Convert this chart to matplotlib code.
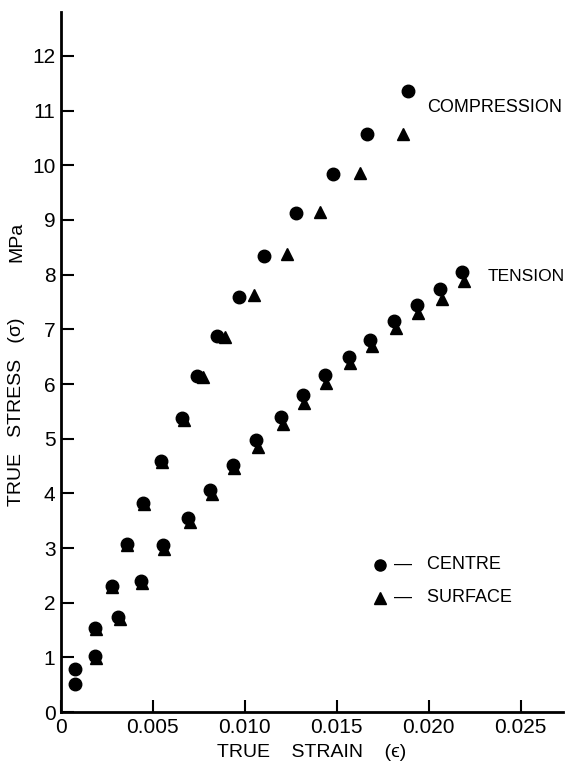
import matplotlib
matplotlib.use('Agg')
import matplotlib.pyplot as plt

plt.rcParams['font.family'] = ['Liberation Sans', 'DejaVu Sans']

# compression, centre (circles) and surface (triangles)
comp_centre_x = [0.00076, 0.00185, 0.00277, 0.00358, 0.00446, 0.00543, 0.00657, 0.0074,
                 0.00848, 0.00967, 0.01103, 0.01277, 0.01478, 0.01663, 0.01886]
comp_centre_y = [0.79, 1.54, 2.30, 3.08, 3.82, 4.60, 5.37, 6.15,
                 6.88, 7.60, 8.35, 9.13, 9.85, 10.58, 11.36]
comp_surface_x = [0.0019, 0.0028, 0.0036, 0.0045, 0.0055, 0.0067, 0.0077,
                  0.0089, 0.0105, 0.0123, 0.0141, 0.01625, 0.0186]
comp_surface_y = [1.52, 2.28, 3.06, 3.80, 4.58, 5.35, 6.13,
                  6.86, 7.62, 8.37, 9.14, 9.86, 10.58]

# tension
tens_centre_x = [0.00076, 0.00185, 0.0031, 0.00435, 0.00554, 0.0069, 0.0081, 0.00935, 0.0106,
                 0.01196, 0.01315, 0.01435, 0.01565, 0.0168, 0.0181, 0.01935, 0.0206, 0.0218]
tens_centre_y = [0.51, 1.02, 1.74, 2.40, 3.05, 3.55, 4.06, 4.52, 4.97,
                 5.40, 5.80, 6.17, 6.50, 6.81, 7.15, 7.45, 7.73, 8.04]
tens_surface_x = [0.0019, 0.0032, 0.0044, 0.0056, 0.0070, 0.0082, 0.0094, 0.0107,
                  0.0121, 0.0132, 0.0144, 0.0157, 0.0169, 0.0182, 0.0194, 0.0207, 0.0219]
tens_surface_y = [0.98, 1.70, 2.36, 2.98, 3.48, 3.98, 4.46, 4.84,
                  5.27, 5.65, 6.02, 6.38, 6.70, 7.03, 7.30, 7.56, 7.88]

xticks = [0, 0.005, 0.010, 0.015, 0.020, 0.025]
xticklabels = ['0', '0.005', '0.010', '0.015', '0.020', '0.025']
yticks = list(range(0, 13))
yticklabels = [str(v) for v in yticks]

fig = plt.figure(figsize=(5.72, 7.64), dpi=100)
ax = fig.add_axes([0.1066, 0.068, 0.8774, 0.916])

ms = 9
ax.plot(comp_surface_x, comp_surface_y, '^', color='black', ms=ms, clip_on=False)
ax.plot(tens_surface_x, tens_surface_y, '^', color='black', ms=ms, clip_on=False)
ax.plot(comp_centre_x, comp_centre_y, 'o', color='black', ms=ms, clip_on=False)
ax.plot(tens_centre_x, tens_centre_y, 'o', color='black', ms=ms, clip_on=False)

ax.set_xlim(0, 0.0273)
ax.set_ylim(0, 12.8)
ax.spines['top'].set_visible(False)
ax.spines['right'].set_visible(False)
ax.spines['left'].set_linewidth(2)
ax.spines['bottom'].set_linewidth(2)

ax.set_xticks(xticks)
ax.set_xticklabels(xticklabels)
ax.set_yticks(yticks)
ax.set_yticklabels(yticklabels)
ax.tick_params(direction='in', length=9, width=1.5, labelsize=15, pad=4)

ax.text(0.0199, 11.06, 'COMPRESSION', fontsize=13, va='center')
ax.text(0.0232, 7.97, 'TENSION', fontsize=12.5, va='center')

# legend
ax.plot([0.01734], [2.69], 'o', color='black', ms=8)
ax.plot([0.01734], [2.09], '^', color='black', ms=8)
ax.text(0.0181, 2.69, '—   CENTRE', fontsize=13, va='center')
ax.text(0.0181, 2.09, '—   SURFACE', fontsize=13, va='center')

ax.set_xlabel('TRUE    STRAIN    (ϵ)', fontsize=14, labelpad=5)
fig.text(17 / 572, 1 - 412 / 764, 'TRUE   STRESS   (σ)', rotation=90,
         fontsize=14, ha='center', va='center')
fig.text(17 / 572, 1 - 242 / 764, 'MPa', rotation=90,
         fontsize=14, ha='center', va='center')

fig.savefig('out.png', dpi=100)
